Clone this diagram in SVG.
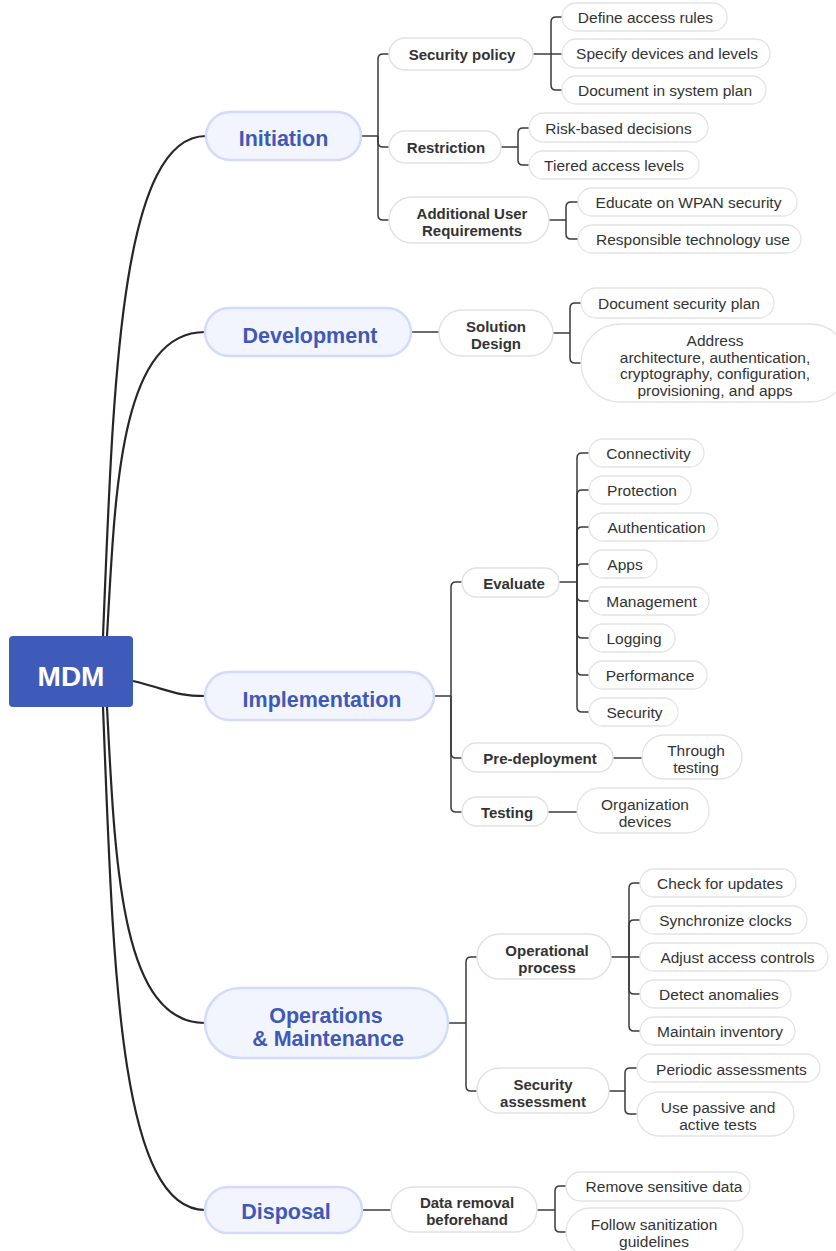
<svg xmlns="http://www.w3.org/2000/svg" width="836" height="1251" viewBox="0 0 836 1251">
<style>
text{font-family:"Liberation Sans",Arial,sans-serif;text-anchor:middle;dominant-baseline:central}
.root rect{fill:#3f5bb9}
.root text{fill:#fff;font-weight:700;font-size:28px}
.l1 rect{fill:#f3f5fe;stroke:#d3dbfc;stroke-width:2.5}
.l1 text{fill:#4059b8;font-weight:700;font-size:21.5px}
.l2 rect{fill:#fff;stroke:#e2e2e2;stroke-width:1.5}
.l2 text{fill:#333;font-weight:700;font-size:15px}
.l3 rect{fill:#fff;stroke:#e4e4e4;stroke-width:1.3}
.l3 text{fill:#333;font-size:15.5px}
.main path{fill:none;stroke:#262626;stroke-width:2.2}
.br path{fill:none;stroke:#3a3a3a;stroke-width:1.5}
</style>
<g id="connectors">
<g class="main">
<path d="M103 636C113 400 118 136 206 136"/>
<path d="M107 636C115 500 118 332 205 332"/>
<path d="M133 681C170 690 175 696 205 696"/>
<path d="M107 707C115 860 120 1023 205 1023"/>
<path d="M103 707C113 960 118 1210 205 1210"/>
</g>
<g class="br">
<path d="M361 136H378"/>
<path d="M378 136V59Q378 54 383 54H389"/>
<path d="M378 136V142Q378 147 383 147H389"/>
<path d="M378 136V215Q378 220 383 220H389"/>
<path d="M533 54H551"/>
<path d="M551 54V22Q551 17 556 17H562"/>
<path d="M551 54H562"/>
<path d="M551 54V85Q551 90 556 90H562"/>
<path d="M501 147H518"/>
<path d="M518 147V133Q518 128 523 128H529"/>
<path d="M518 147V160Q518 165 523 165H529"/>
<path d="M549 220H566"/>
<path d="M566 220V207Q566 202 571 202H578"/>
<path d="M566 220V234Q566 239 571 239H578"/>
<path d="M411 332H439"/>
<path d="M553 333H570"/>
<path d="M570 333V308Q570 303 575 303H581"/>
<path d="M570 333V358Q570 363 575 363H581"/>
<path d="M434 696H451"/>
<path d="M451 696V587Q451 582 456 582H462"/>
<path d="M451 696V753Q451 758 456 758H462"/>
<path d="M451 696V807Q451 812 456 812H462"/>
<path d="M559 582H577"/>
<path d="M577 582V458Q577 453 582 453H589"/>
<path d="M577 582V495Q577 490 582 490H589"/>
<path d="M577 582V532Q577 527 582 527H589"/>
<path d="M577 582V569Q577 564 582 564H589"/>
<path d="M577 582V596Q577 601 582 601H589"/>
<path d="M577 582V633Q577 638 582 638H589"/>
<path d="M577 582V670Q577 675 582 675H589"/>
<path d="M577 582V707Q577 712 582 712H589"/>
<path d="M613 758H642"/>
<path d="M548 812H577"/>
<path d="M448 1023H466"/>
<path d="M466 1023V962Q466 957 471 957H477"/>
<path d="M466 1023V1086Q466 1091 471 1091H477"/>
<path d="M611 957H629"/>
<path d="M629 957V888Q629 883 634 883H640"/>
<path d="M629 957V925Q629 920 634 920H640"/>
<path d="M629 957H640"/>
<path d="M629 957V989Q629 994 634 994H640"/>
<path d="M629 957V1026Q629 1031 634 1031H640"/>
<path d="M609 1091H625"/>
<path d="M625 1091V1073Q625 1068 630 1068H637"/>
<path d="M625 1091V1109Q625 1114 630 1114H637"/>
<path d="M362 1210H391"/>
<path d="M537 1210H555"/>
<path d="M555 1210V1191Q555 1186 560 1186H566"/>
<path d="M555 1210V1227Q555 1232 560 1232H566"/>
</g>
</g>
<g id="mdm" class="root"><rect x="9" y="636" width="124" height="71" rx="4"/><text x="71" y="676">MDM</text></g>

<g id="initiation" class="l1"><rect x="206" y="112" width="155" height="48" rx="24"/><text x="283.5" y="139">Initiation</text></g>
<g id="security-policy" class="l2"><rect x="389" y="38" width="144" height="32" rx="16"/><text x="462" y="54.5">Security policy</text></g>
<g id="define-access" class="l3"><rect x="562" y="3" width="165" height="28" rx="14"/><text x="645.5" y="17">Define access rules</text></g>
<g id="specify-devices" class="l3"><rect x="562" y="39" width="208" height="29" rx="14.5"/><text x="667" y="53.5">Specify devices and levels</text></g>
<g id="document-plan" class="l3"><rect x="562" y="76" width="204" height="28" rx="14"/><text x="665" y="90.5">Document in system plan</text></g>
<g id="restriction" class="l2"><rect x="389" y="131" width="112" height="32" rx="16"/><text x="446" y="147.5">Restriction</text></g>
<g id="risk-based" class="l3"><rect x="529" y="113" width="179" height="29" rx="14.5"/><text x="618.5" y="128">Risk-based decisions</text></g>
<g id="tiered" class="l3"><rect x="529" y="151" width="170" height="28" rx="14"/><text x="614" y="165.5">Tiered access levels</text></g>
<g id="additional-user" class="l2"><rect x="389" y="197" width="160" height="46" rx="23"/><text><tspan x="472" y="213">Additional User</tspan><tspan x="472" y="230">Requirements</tspan></text></g>
<g id="educate" class="l3"><rect x="578" y="188" width="219" height="28" rx="14"/><text x="688.5" y="202.5">Educate on WPAN security</text></g>
<g id="responsible" class="l3"><rect x="578" y="225" width="223" height="28" rx="14"/><text x="693" y="239.5">Responsible technology use</text></g>

<g id="development" class="l1"><rect x="205" y="308" width="206" height="48" rx="24"/><text x="310" y="335.5">Development</text></g>
<g id="solution-design" class="l2"><rect x="439" y="310" width="114" height="46" rx="23"/><text><tspan x="496" y="325.5">Solution</tspan><tspan x="496" y="342.5">Design</tspan></text></g>
<g id="doc-security-plan" class="l3"><rect x="581" y="288" width="193" height="30" rx="15"/><text x="679" y="303">Document security plan</text></g>
<g id="address" class="l3"><rect x="581" y="324" width="268" height="78" rx="39"/><text><tspan x="715" y="340">Address</tspan><tspan x="715" y="356.5">architecture, authentication,</tspan><tspan x="715" y="373">cryptography, configuration,</tspan><tspan x="715" y="389.5">provisioning, and apps</tspan></text></g>

<g id="implementation" class="l1"><rect x="205" y="672" width="229" height="48" rx="24"/><text x="322" y="700">Implementation</text></g>
<g id="evaluate" class="l2"><rect x="462" y="568" width="97" height="29" rx="14.5"/><text x="514" y="583">Evaluate</text></g>
<g id="connectivity" class="l3"><rect x="589" y="439" width="115" height="28" rx="14"/><text x="648.5" y="453">Connectivity</text></g>
<g id="protection" class="l3"><rect x="589" y="476" width="102" height="28" rx="14"/><text x="642" y="490">Protection</text></g>
<g id="authentication" class="l3"><rect x="589" y="513" width="129" height="28" rx="14"/><text x="656.5" y="527">Authentication</text></g>
<g id="apps" class="l3"><rect x="589" y="550" width="68" height="28" rx="14"/><text x="625" y="564">Apps</text></g>
<g id="management" class="l3"><rect x="589" y="587" width="120" height="28" rx="14"/><text x="651.5" y="601">Management</text></g>
<g id="logging" class="l3"><rect x="589" y="624" width="86" height="28" rx="14"/><text x="634" y="638">Logging</text></g>
<g id="performance" class="l3"><rect x="589" y="661" width="118" height="28" rx="14"/><text x="650" y="675">Performance</text></g>
<g id="security" class="l3"><rect x="589" y="698" width="89" height="28" rx="14"/><text x="634.5" y="712">Security</text></g>
<g id="pre-deployment" class="l2"><rect x="462" y="743" width="151" height="29" rx="14.5"/><text x="540" y="758.5">Pre-deployment</text></g>
<g id="through-testing" class="l3"><rect x="642" y="735" width="100" height="44" rx="22"/><text><tspan x="696" y="750">Through</tspan><tspan x="696" y="767">testing</tspan></text></g>
<g id="testing" class="l2"><rect x="462" y="797" width="86" height="29" rx="14.5"/><text x="507" y="812.5">Testing</text></g>
<g id="org-devices" class="l3"><rect x="577" y="788" width="132" height="45" rx="22.5"/><text><tspan x="645" y="803.5">Organization</tspan><tspan x="645" y="820.5">devices</tspan></text></g>

<g id="operations" class="l1"><rect x="205" y="988" width="243" height="70" rx="35"/><text><tspan x="326" y="1015.5">Operations</tspan><tspan x="328" y="1038.5">&amp; Maintenance</tspan></text></g>
<g id="operational-process" class="l2"><rect x="477" y="934" width="134" height="45" rx="22.5"/><text><tspan x="547" y="949.5">Operational</tspan><tspan x="547" y="966.5">process</tspan></text></g>
<g id="check-updates" class="l3"><rect x="640" y="869" width="156" height="28" rx="14"/><text x="720" y="883.5">Check for updates</text></g>
<g id="sync-clocks" class="l3"><rect x="640" y="906" width="167" height="28" rx="14"/><text x="725.5" y="920.5">Synchronize clocks</text></g>
<g id="adjust-access" class="l3"><rect x="640" y="943" width="188" height="28" rx="14"/><text x="737.5" y="957.5">Adjust access controls</text></g>
<g id="detect-anomalies" class="l3"><rect x="640" y="980" width="151" height="28" rx="14"/><text x="719" y="994.5">Detect anomalies</text></g>
<g id="maintain-inventory" class="l3"><rect x="640" y="1017" width="155" height="28" rx="14"/><text x="720" y="1031.5">Maintain inventory</text></g>
<g id="security-assessment" class="l2"><rect x="477" y="1068" width="132" height="45" rx="22.5"/><text><tspan x="543" y="1083.5">Security</tspan><tspan x="543" y="1100.5">assessment</tspan></text></g>
<g id="periodic" class="l3"><rect x="637" y="1054" width="183" height="28" rx="14"/><text x="731.5" y="1069">Periodic assessments</text></g>
<g id="passive-active" class="l3"><rect x="637" y="1092" width="157" height="44" rx="22"/><text><tspan x="718" y="1107">Use passive and</tspan><tspan x="718" y="1124">active tests</tspan></text></g>

<g id="disposal" class="l1"><rect x="205" y="1187" width="157" height="46" rx="23"/><text x="286" y="1212">Disposal</text></g>
<g id="data-removal" class="l2"><rect x="391" y="1187" width="146" height="45" rx="22.5"/><text><tspan x="467" y="1201.5">Data removal</tspan><tspan x="467" y="1218.5">beforehand</tspan></text></g>
<g id="remove-sensitive" class="l3"><rect x="566" y="1172" width="184" height="29" rx="14.5"/><text x="664" y="1186.5">Remove sensitive data</text></g>
<g id="follow-sanitization" class="l3"><rect x="566" y="1208" width="177" height="48" rx="24"/><text><tspan x="654" y="1224">Follow sanitization</tspan><tspan x="654" y="1240.5">guidelines</tspan></text></g>
</svg>
